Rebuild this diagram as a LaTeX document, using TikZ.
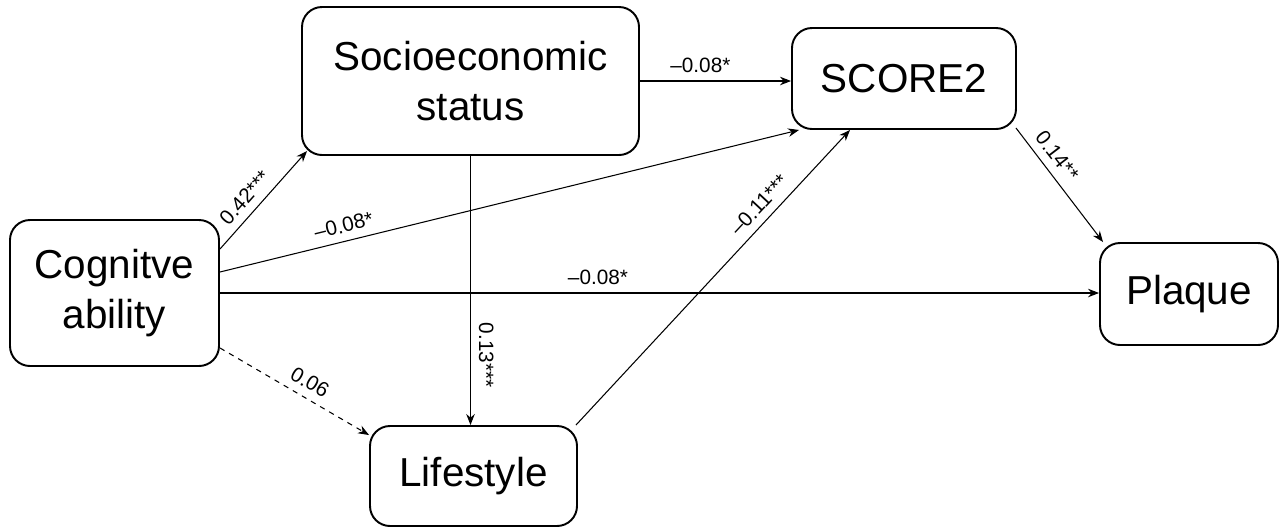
\documentclass[tikz,border=0pt]{standalone}
\usepackage{fontspec}
\setmainfont{Liberation Sans}
\usetikzlibrary{%
    arrows,
    arrows.meta,
    positioning
    }
\tikzset{
  varbox/.style={
    rectangle,
    rounded corners=0.4cm,
    draw=black,
    line width=1.1pt,
    align=center,
    inner sep=0pt,
    font=\fontsize{23}{28}\selectfont,
  },
  path3/.style={
    ->,
    >={Stealth[length=2.2mm,width=1.7mm]},
    line width=0.6pt,
  },
  coef/.style={
    font=\fontsize{11.8}{13}\selectfont,
    inner sep=4.5pt,
  },
}

\begin{document}
\begin{tikzpicture}
\useasboundingbox (0,0) rectangle (25.58,-10.56);

\node[varbox,minimum width=4.18cm,minimum height=2.92cm]
  (cog) at (2.29,-5.86)
  {Cognitve\\ability};
\node[varbox,minimum width=6.74cm,minimum height=2.96cm]
  (ses) at (9.41,-1.62)
  {Socioeconomic\\status};
\node[varbox,minimum width=4.48cm,minimum height=2.02cm]
  (score) at (18.08,-1.57)
  {SCORE2};
\node[varbox,minimum width=3.56cm,minimum height=2.04cm]
  (plaque) at (23.78,-5.88)
  {Plaque};
\node[varbox,minimum width=4.14cm,minimum height=2.0cm]
  (life) at (9.47,-9.52)
  {Lifestyle};

\begin{scope}[path3]
\draw
  ([yshift=-6mm]cog.north east) --
  node[coef,sloped,above,pos=0.42] {0.42***}
  ([xshift=1.2mm,yshift=1mm]ses.south west);
\draw
  ([yshift=4.2mm]cog.east) --
  node[coef,sloped,above,pos=0.22] {–0.08*}
  ([xshift=1.6mm]score.south west);
\draw
  (cog.east) --
  node[coef,above,pos=0.43] {–0.08*}
  (cog.east -| plaque.west);
\draw[dashed]
  ([yshift=3.8mm]cog.south east) --
  node[coef,sloped,above,pos=0.55] {0.06}
  ([yshift=-2mm]life.north west);
\draw
  (ses.east) --
  node[coef,above,pos=0.4] {–0.08*}
  (ses.east -| score.west);
\draw
  (ses.south) --
  node[coef,sloped,above,pos=0.74] {0.13***}
  (ses.south |- life.north);
\draw
  ([xshift=-0.4mm]life.north east) --
  node[coef,sloped,above,pos=0.71] {–0.11***}
  ([xshift=-10.8mm]score.south);
\draw
  ([xshift=-0.2mm,yshift=0.4mm]score.south east) --
  node[coef,sloped,above,pos=0.33] {0.14**}
  ([xshift=0.8mm]plaque.north west);
\end{scope}
\end{tikzpicture}
\end{document}
